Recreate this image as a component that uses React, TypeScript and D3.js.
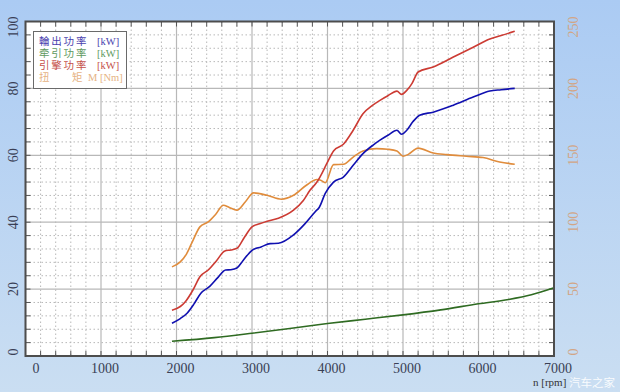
import React from "react";
import * as d3 from "d3";

// ---------- data ----------
const outputRpm = [1940, 2050, 2140, 2230, 2320, 2440, 2550, 2650, 2720, 2800, 2880, 3000, 3120, 3240, 3350, 3550, 3700, 3840, 3890, 3970, 4080, 4210, 4340, 4470, 4600, 4700, 4800, 4920, 4980, 5050, 5130, 5220, 5400, 5660, 5930, 6150, 6300, 6480];
const outputKw = [9.8, 11.2, 12.8, 15.5, 18.7, 20.8, 23.5, 25.7, 25.8, 26.3, 28.5, 31.6, 32.6, 33.6, 33.7, 36.2, 39.5, 43.2, 44.4, 48.6, 52.0, 53.5, 57.0, 60.5, 63.0, 64.6, 66.0, 67.5, 66.3, 67.5, 70.0, 72.0, 72.9, 74.9, 77.4, 79.2, 79.6, 80.0];

const engineRpm = [1940, 2050, 2120, 2220, 2310, 2420, 2530, 2640, 2720, 2800, 2900, 3000, 3100, 3200, 3350, 3550, 3680, 3770, 3860, 3900, 3990, 4080, 4210, 4340, 4470, 4600, 4700, 4800, 4920, 4980, 5050, 5120, 5200, 5400, 5660, 5930, 6150, 6300, 6480];
const engineKw = [13.7, 14.8, 16.3, 19.8, 23.7, 25.7, 28.5, 31.4, 31.7, 32.2, 35.5, 38.6, 39.5, 40.3, 41.2, 43.6, 46.5, 49.6, 52.0, 53.5, 57.5, 61.3, 63.3, 67.5, 72.4, 75.0, 76.5, 77.8, 79.2, 78.2, 79.4, 81.5, 84.9, 86.4, 89.3, 92.3, 94.8, 95.8, 97.1];

const torqueRpm = [1940, 2050, 2130, 2200, 2310, 2420, 2520, 2620, 2700, 2800, 2910, 3020, 3200, 3390, 3550, 3720, 3860, 3910, 3970, 4080, 4210, 4340, 4470, 4650, 4800, 4920, 5000, 5070, 5200, 5400, 5580, 5840, 6060, 6280, 6480];
const torqueNm = [66.6, 70.4, 76.0, 84.1, 96.5, 100.2, 106.0, 112.7, 111.0, 109.0, 115.1, 121.9, 120.1, 117.2, 120.1, 127.6, 131.9, 131.3, 129.5, 143.0, 143.3, 148.7, 153.2, 155.0, 154.5, 153.2, 149.3, 150.7, 155.4, 151.7, 150.5, 149.3, 148.3, 145.0, 143.3];

const tractionRpm = [1940, 2500, 3000, 3500, 4000, 4500, 5000, 5500, 6000, 6400, 6700, 7000];
const tractionKw = [4.4, 5.5, 6.8, 8.2, 9.7, 11.0, 12.3, 13.8, 15.6, 16.9, 18.3, 20.4];

const xTicks = [0, 1000, 2000, 3000, 4000, 5000, 6000, 7000];
const yLeftTicks = [0, 20, 40, 60, 80, 100];
const yRightTicks = [0, 50, 100, 150, 200, 250];

const legendNames = ["輪出功率", "牵引功率", "引擎功率"];
const legendUnit = "[kW]";
const torqueLegend = ["扭", "矩", "M [Nm]"];
const xTitle = "n [rpm]";
const watermark = "汽车之家";

// ---------- layout ----------
const W = 620;
const H = 392;
const L = 25.5, R = 554, T = 21.5, B = 356;

const x = d3.scaleLinear().domain([0, 7000]).range([L, R]);
const y = d3.scaleLinear().domain([0, 100]).range([B, T]);
const yR = d3.scaleLinear().domain([0, 250]).range([B, T]);

const serif = "'Liberation Serif', 'DejaVu Serif', serif";
const mixed = "'Liberation Serif', 'Noto Sans CJK SC', 'Noto Sans CJK TC', serif";
const cjk = "'Noto Sans CJK SC', 'Noto Sans CJK TC', sans-serif";

function linePath(xs: number[], vs: number[], sy: d3.ScaleLinear<number, number>) {
  const pts = xs.map((r, i) => [r, vs[i]] as [number, number]);
  return d3
    .line<[number, number]>()
    .x((d) => x(d[0]))
    .y((d) => sy(d[1]))
    .curve(d3.curveMonotoneX)(pts) as string;
}

export default function App() {
  const minorX = d3.range(0, 7001, 200);
  const minorY = d3.range(0, 100.01, 4);
  const legendColors = ["#4b3fae", "#5f9a5f", "#c5504a"];
  const ly0 = 44.5;
  const lstep = 12.2;

  return (
    <svg
      width={W}
      height={H}
      style={{ position: "absolute", left: 0, top: 0 }}
      xmlns="http://www.w3.org/2000/svg"
    >
      <defs>
        <linearGradient id="bg" x1="0" y1="0" x2="0" y2="1">
          <stop offset="0" stopColor="#abcbf3" />
          <stop offset="1" stopColor="#cadef2" />
        </linearGradient>
      </defs>
      <rect x={0} y={0} width={W} height={H} fill="url(#bg)" />
      <rect x={L} y={T} width={R - L} height={B - T} fill="#ffffff" />

      {/* minor grid */}
      {minorX.filter((v) => v % 1000 !== 0).map((v) => (
        <line key={"mx" + v} x1={x(v)} x2={x(v)} y1={T} y2={B} stroke="#b8b8b8" strokeWidth={1} strokeDasharray="1.5,2.5" />
      ))}
      {minorY.filter((v) => v % 20 !== 0).map((v) => (
        <line key={"my" + v} x1={L} x2={R} y1={y(v)} y2={y(v)} stroke="#b8b8b8" strokeWidth={1} strokeDasharray="1.5,2.5" />
      ))}
      {/* major grid */}
      {xTicks.map((v) => (
        <line key={"gx" + v} x1={x(v)} x2={x(v)} y1={T} y2={B} stroke="#b8b8b8" strokeWidth={1.2} />
      ))}
      {yLeftTicks.map((v) => (
        <line key={"gy" + v} x1={L} x2={R} y1={y(v)} y2={y(v)} stroke="#b8b8b8" strokeWidth={1.2} />
      ))}

      {/* inward ticks */}
      {minorX.map((v) => (
        <g key={"tx" + v}>
          <line x1={x(v)} x2={x(v)} y1={B} y2={B - 5} stroke="#555" strokeWidth={1} />
          <line x1={x(v)} x2={x(v)} y1={T} y2={T + 5} stroke="#555" strokeWidth={1} />
        </g>
      ))}
      {minorY.map((v) => (
        <g key={"ty" + v}>
          <line x1={L} x2={L + 5} y1={y(v)} y2={y(v)} stroke="#555" strokeWidth={1} />
          <line x1={R} x2={R - 5} y1={y(v)} y2={y(v)} stroke="#555" strokeWidth={1} />
        </g>
      ))}

      {/* curves */}
      <path d={linePath(tractionRpm, tractionKw, y)} fill="none" stroke="#2f6b22" strokeWidth={1.6} />
      <path d={linePath(torqueRpm, torqueNm, yR)} fill="none" stroke="#e08c3c" strokeWidth={1.6} />
      <path d={linePath(engineRpm, engineKw, y)} fill="none" stroke="#cc3b33" strokeWidth={1.6} />
      <path d={linePath(outputRpm, outputKw, y)} fill="none" stroke="#1010b0" strokeWidth={1.6} />

      {/* frame */}
      <rect x={L} y={T} width={R - L} height={B - T} fill="none" stroke="#4d4d4d" strokeWidth={2} />

      {/* legend */}
      <rect x={33.5} y={31.5} width={93} height={57} fill="#ffffff" stroke="#6a6a6a" strokeWidth={1} />
      {legendNames.map((t, i) => (
        <text key={t} x={39} y={ly0 + i * lstep} fontSize={10.5} fontFamily={mixed} fill={legendColors[i]}>
          <tspan letterSpacing={1.8}>{t}</tspan>
          <tspan x={97}>{legendUnit}</tspan>
        </text>
      ))}
      <text x={39} y={ly0 + 3 * lstep} fontSize={10.5} fontFamily={mixed} fill="#e6b384">
        <tspan x={39}>{torqueLegend[0]}</tspan>
        <tspan x={72}>{torqueLegend[1]}</tspan>
        <tspan x={88}>{torqueLegend[2]}</tspan>
      </text>

      {/* bottom labels */}
      {xTicks.map((v) => (
        <text key={"lx" + v} x={Math.max(x(v) + 4, 36)} y={373} textAnchor="middle" fontSize={14} fontFamily={serif} fill="#3a3f55">{v}</text>
      ))}
      {/* left labels */}
      {yLeftTicks.map((v) => (
        <text key={"ly" + v} transform={`translate(13,${Math.min(Math.max(y(v), 27), 352)}) rotate(-90)`} textAnchor="middle" dominantBaseline="central" fontSize={14} fontFamily={serif} fill="#3a3f55">{v}</text>
      ))}
      {/* right labels */}
      {yRightTicks.map((v) => (
        <text key={"ry" + v} transform={`translate(573,${Math.min(Math.max(yR(v), 27), 352)}) rotate(-90)`} textAnchor="middle" dominantBaseline="central" fontSize={14} fontFamily={serif} fill="#d2a585">{v}</text>
      ))}

      <text x={533} y={386} fontSize={11} fontFamily={serif} fill="#333">{xTitle}</text>
      <text x={569} y={387} fontSize={11.5} fontFamily={cjk} fill="#ffffff" fillOpacity={0.9}>{watermark}</text>
    </svg>
  );
}
